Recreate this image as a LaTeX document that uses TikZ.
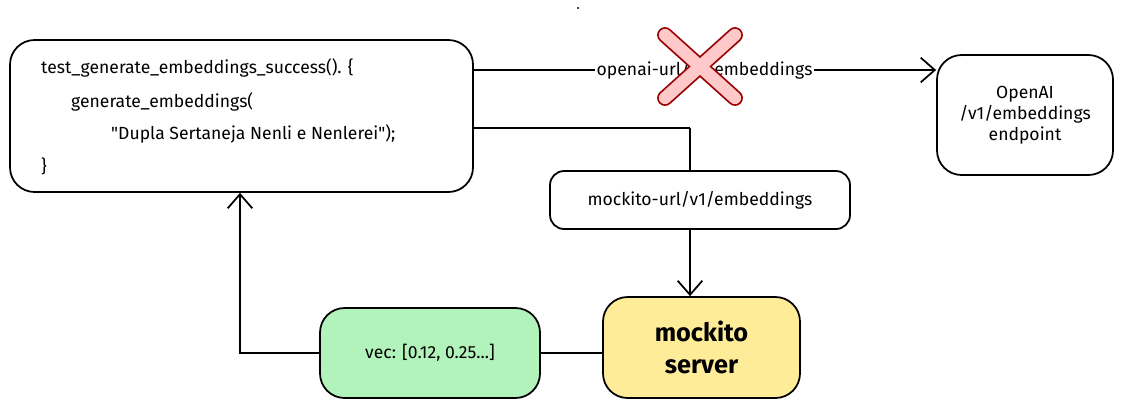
\documentclass[tikz,border=0pt]{standalone}
\usepackage{fontspec}
\setmainfont{Fira Sans}
\newfontfamily\plainquote{Fira Sans}
\usetikzlibrary{arrows.meta}
\definecolor{mockyellow}{HTML}{FFEC99}
\definecolor{vecgreen}{HTML}{B2F2BB}
\definecolor{crossred}{HTML}{FFC9C9}
\tikzset{
  box/.style={draw, line width=1pt, rounded corners=14pt, align=center},
  conn/.style={line width=1pt},
  arr/.style={conn, -{Straight Barb[length=8pt, width=14pt]}}
}
\begin{document}
\begin{tikzpicture}[x=0.02cm, y=-0.02cm]
      \useasboundingbox (0,0) rectangle (1141,413);
      \fill (578,8) circle (0.6pt);

      % code under test
      \node[box, minimum width=463*0.02cm, minimum height=152*0.02cm] (test) at (241.5,116) {};
      \node[anchor=west] (l1) at (35,68) {test\_generate\_embeddings\_success(). \{};
      \node[anchor=west] (l2) at (65,102) {generate\_embeddings(};
      \node[anchor=west, font=\plainquote] (l3) at (105,134) {"Dupla Sertaneja Nenli e Nenlerei");};
      \node[anchor=west] (l4) at (35,166) {\}};

      \node[box, minimum width=176*0.02cm, minimum height=120*0.02cm] (openai) at (1025,115) {OpenAI\\/v1/embeddings\\endpoint};
      \node[box, fill=mockyellow, minimum width=197*0.02cm, minimum height=101*0.02cm, font=\Large\bfseries] (mock) at (701.5,347.5) {mockito\\server};
      \node[box, fill=vecgreen, minimum width=220*0.02cm, minimum height=90*0.02cm] (vec) at (430,353) {vec: [0.12, 0.25...]};

      \coordinate (oa) at (473,70);
      \coordinate (mk) at (473,128);
      \coordinate (bend) at (690,128);
      \coordinate (back) at (240,353);

      \draw[arr] (oa) -- (oa -| openai.west) node[midway, fill=white, inner sep=1pt] (olabel) {openai-url/v1/embeddings};
      \draw[conn] (mk) -- (bend);
      \draw[arr] (bend) -- (mock.north -| bend);
      \node[box, fill=white, rounded corners=8pt, minimum width=300*0.02cm, minimum height=58*0.02cm] (mlabel) at (700,200) {mockito-url/v1/embeddings};
      \draw[conn] (mock.west |- vec) -- (vec.east);
      \draw[arr] (vec.west) -- (back) -- (test.south -| back);

      % blocked call
      \draw[line width=9pt, red!60!black, line cap=round] (665,35) -- (735,98) (735,35) -- (665,98);
      \draw[line width=7pt, crossred, line cap=round] (665,35) -- (735,98) (735,35) -- (665,98);
\end{tikzpicture}
\end{document}
